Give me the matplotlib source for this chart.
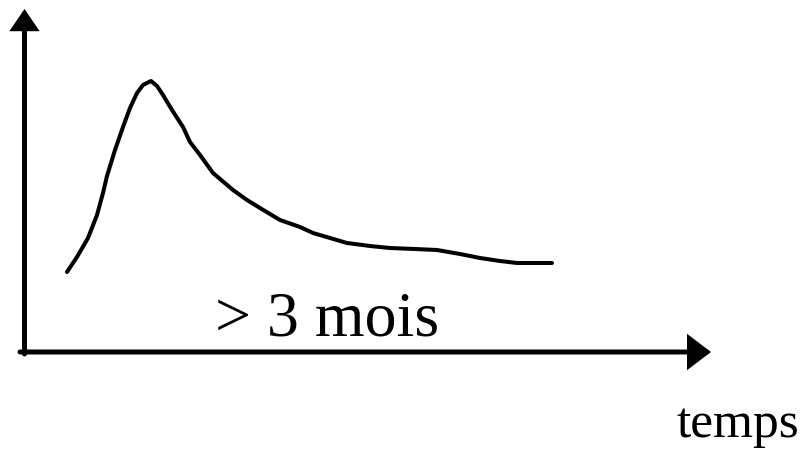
import matplotlib
matplotlib.use("Agg")
import matplotlib.pyplot as plt
from matplotlib.patches import FancyArrowPatch

# Sketch of a response curve over time (canvas units, y grows downward)
curve_x = [67, 77, 88, 97, 103, 107, 115, 123, 130, 137, 143, 151, 157, 163,
           172, 183, 190, 200, 213, 233, 247, 260, 280, 300, 313, 330, 347,
           370, 390, 415, 437, 460, 480, 500, 517, 535, 552]
curve_y = [272, 257, 238, 215, 193, 176, 150, 127, 108, 93, 85, 81, 86, 95,
           110, 127, 142, 155, 173, 190, 200, 208, 220, 227, 233, 238, 243,
           246, 248, 249, 250, 254, 258, 261, 263, 263, 263]

label_duration = "> 3 mois"
label_time = "temps"

fig = plt.figure(figsize=(8.10, 4.49), dpi=100)
ax = fig.add_axes([0, 0, 1, 1])
ax.set_xlim(0, 810)
ax.set_ylim(449, 0)
ax.axis("off")

# Axes drawn as arrows
y_axis = FancyArrowPatch((24.5, 354), (24.5, 9),
                         arrowstyle="-|>,head_length=1.1,head_width=0.75",
                         mutation_scale=10, lw=3.6, color="black",
                         shrinkA=0, shrinkB=0, joinstyle="miter")
x_axis = FancyArrowPatch((20, 352), (711, 352),
                         arrowstyle="-|>,head_length=1.25,head_width=0.95",
                         mutation_scale=10, lw=3.6, color="black",
                         shrinkA=0, shrinkB=0, joinstyle="miter")
ax.add_patch(y_axis)
ax.add_patch(x_axis)

ax.plot(curve_x, curve_y, color="black", lw=2.9,
        solid_joinstyle="round", solid_capstyle="round")

ax.text(327, 335, label_duration, family="Liberation Serif", fontsize=46,
        ha="center", va="baseline", color="black")
ax.text(738, 437, label_time, family="Liberation Serif", fontsize=37,
        ha="center", va="baseline", color="black")

fig.savefig("out.png", dpi=100)
